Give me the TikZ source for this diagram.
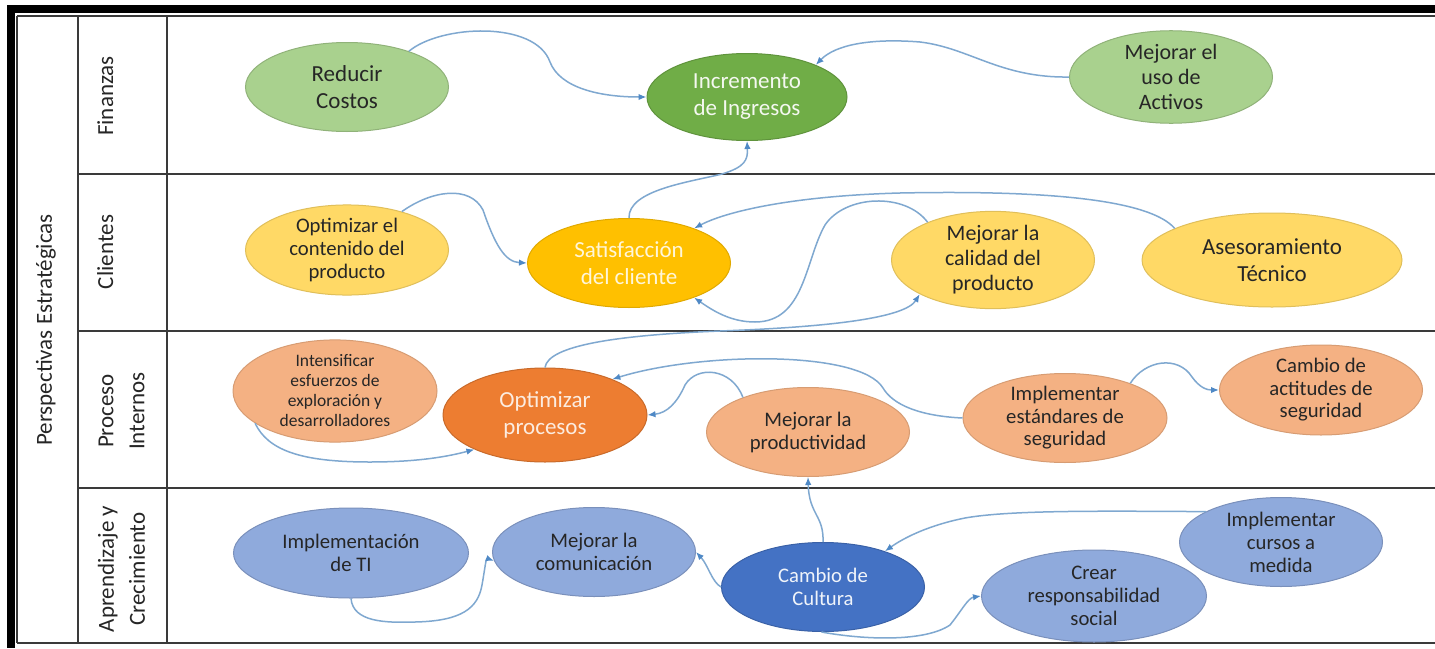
\documentclass[tikz,border=0pt]{standalone}
\usepackage{fontspec}
\setmainfont{Carlito}
\usetikzlibrary{shapes.geometric,arrows.meta}

% fill colours of the bubbles
\definecolor{gfl}{HTML}{A9D18E}
\definecolor{gfd}{HTML}{70AD47}
\definecolor{yfl}{HTML}{FFD966}
\definecolor{yfd}{HTML}{FFC000}
\definecolor{ofl}{HTML}{F4B183}
\definecolor{ofd}{HTML}{ED7D31}
\definecolor{bfl}{HTML}{8FAADC}
\definecolor{bfd}{HTML}{4472C4}
% lines and text
\definecolor{linkc}{HTML}{7FA8D0}
\definecolor{tipc}{HTML}{4F89C6}
\definecolor{gridc}{HTML}{3A3A3A}
\definecolor{txtd}{HTML}{262626}

\tikzset{
  bub/.style={ellipse, minimum width=203pt, minimum height=89pt, inner sep=0pt,
              align=center, line width=1pt, text=txtd,
              font=\fontsize{20.7}{23}\selectfont},
  gl/.style={bub, fill=gfl, draw=gfl!85!black, font=\fontsize{23}{27}\selectfont},
  gd/.style={bub, fill=gfd, draw=gfd!85!black, text=white!92!gfd, font=\fontsize{23}{27}\selectfont},
  yl/.style={bub, fill=yfl, draw=yfl!88!black},
  yd/.style={bub, fill=yfd, draw=yfd!88!black, text=white!85!yfd, font=\fontsize{23}{27}\selectfont},
  ol/.style={bub, fill=ofl, draw=ofl!88!black},
  od/.style={bub, fill=ofd, draw=ofd!85!black, text=white!85!ofd, font=\fontsize{23}{27}\selectfont},
  bl/.style={bub, fill=bfl, draw=bfl!85!black},
  bd/.style={bub, fill=bfd, draw=bfd!85!black, text=white!92!bfd},
  conn/.style={draw=linkc, line width=1.5pt, -{Latex[length=8pt,width=6.5pt,color=tipc]}},
  grid/.style={draw=gridc, line width=1.6pt},
  sidelab/.style={rotate=90, text=txtd, font=\fontsize{23}{31}\selectfont, align=center, inner sep=0pt}
}

\begin{document}
\begin{tikzpicture}[x=1pt,y=-1pt]
\useasboundingbox (0,0) rectangle (1435,648);
\fill[white] (0,0) rectangle (1435,648);

% frame of the table
\fill[black] (7,5) rectangle (1435,12.5);
\fill[black] (7,5) rectangle (14.5,648);
\draw[grid] (17,16) -- (1435,16);
\draw[grid] (17,16) -- (17,643);
\draw[grid] (17,643) -- (1435,643);
\draw[grid] (78,16) -- (78,643);
\draw[grid] (167,16) -- (167,643);
\draw[grid] (78,174) -- (1435,174);
\draw[grid] (78,331) -- (1435,331);
\draw[grid] (78,488) -- (1435,488);

% row headings
\node[sidelab] (lper) at (46,330) {Perspectivas Estratégicas};
\node[sidelab, anchor=base] (lfin) at (113,96) {Finanzas};
\node[sidelab, anchor=base] (lcli) at (113,252) {Clientes};
\node[sidelab] (lpro) at (121.5,411) {Proceso\\Internos};
\node[sidelab] (lapr) at (121.5,569) {Aprendizaje y\\Crecimiento};

% Finanzas
\node[gl] (rc) at (347,87) {Reducir\\Costos};
\node[gd, minimum width=200pt, minimum height=87pt] (inc) at (747,97) {Incremento\\de Ingresos};
\node[gl, font=\fontsize{22}{25}\selectfont] (act) at (1171,77) {Mejorar el\\uso de\\Activos};

% Clientes
\node[yl] (oc) at (347,250) {Optimizar el\\contenido del\\producto};
\node[yd] (sat) at (629,263) {Satisfacción\\del cliente};
\node[yl, font=\fontsize{22}{25}\selectfont] (mc) at (993,260) {Mejorar la\\calidad del\\producto};
\node[yl, minimum width=260pt, minimum height=94pt, font=\fontsize{23}{27}\selectfont] (ase) at (1272,260) {Asesoramiento\\Técnico};

% Proceso internos
\node[ol, minimum width=204pt, minimum height=87pt, font=\fontsize{17.5}{20}\selectfont] (int) at (335,391) {Intensificar\\esfuerzos de\\exploración y\\desarrolladores};
\node[od, minimum width=204pt, minimum height=94pt] (op) at (545,415) {Optimizar\\procesos};
\node[ol] (mp) at (808,432) {Mejorar la\\productividad};
\node[ol, minimum width=204pt, minimum height=87pt, font=\fontsize{20.7}{22.5}\selectfont] (ies) at (1065,418) {Implementar\\estándares de\\seguridad};
\node[ol, minimum height=90pt, font=\fontsize{20.7}{22.5}\selectfont] (cas) at (1321,390) {Cambio de\\actitudes de\\seguridad};

% Aprendizaje y crecimiento
\node[bl, minimum width=235pt, minimum height=90pt] (ti) at (351,553) {Implementación\\de TI};
\node[bl] (mc2) at (594,552) {Mejorar la\\comunicación};
\node[bd] (cc) at (823,587) {Cambio de\\Cultura};
\node[bl, minimum width=225pt, minimum height=92pt] (crs) at (1094,596) {Crear\\responsabilidad\\social};
\node[bl] (imc) at (1281,542) {Implementar\\cursos a\\medida};

% connectors
\draw[conn] (rc.30) .. controls (440,25) and (535,20) .. (550,62) .. controls (560,88) and (600,97) .. (inc.180);
\draw[conn] (act.180) .. controls (1000,78) and (970,48) .. (920,42) .. controls (870,38) and (835,45) .. (inc.25);
\draw[conn] (sat.90) .. controls (628,190) and (690,182) .. (722,174) .. controls (745,167) and (748,160) .. (inc.270);
\draw[conn] (oc.35) .. controls (432,190) and (470,185) .. (483,210) .. controls (495,245) and (505,262) .. (sat.180);
\draw[conn] (ase.162) .. controls (1150,200) and (1050,190) .. (900,193) .. controls (790,196) and (725,212) .. (sat.28);
\draw[conn] (mc.150) .. controls (905,192) and (845,195) .. (825,225) .. controls (805,260) and (805,322) .. (755,322) .. controls (730,322) and (712,310) .. (sat.-28);
\draw[conn] (op.90) .. controls (548,345) and (620,335) .. (720,331) .. controls (830,327) and (905,318) .. (mc.205);
\draw[conn] (int.202) .. controls (268,450) and (300,462) .. (370,462) .. controls (420,462) and (450,456) .. (op.206);
\draw[conn] (ies.180) .. controls (920,416) and (893,405) .. (883,388) .. controls (860,350) and (700,352) .. (op.28);
\draw[conn] (mp.152) .. controls (732,368) and (697,365) .. (685,385) .. controls (677,403) and (667,413) .. (op.0);
\draw[conn] (ies.28) .. controls (1145,360) and (1178,355) .. (1192,377) .. controls (1200,388) and (1207,390) .. (cas.180);
\draw[conn] (cc.90) .. controls (824,515) and (809,515) .. (mp.270);
\draw[conn] (cc.180) .. controls (712,582) and (708,565) .. (mc2.0);
\draw[conn] (ti.270) .. controls (353,622) and (385,623) .. (415,622) .. controls (462,621) and (478,608) .. (482,585) .. controls (485,568) and (486,558) .. (mc2.185);
\draw[conn] (imc.158) .. controls (1100,511) and (1010,510) .. (965,518) .. controls (930,525) and (905,537) .. (cc.30);
\draw[conn] (cc.268) .. controls (865,640) and (925,642) .. (950,625) .. controls (962,610) and (968,598) .. (crs.180);
\end{tikzpicture}
\end{document}
